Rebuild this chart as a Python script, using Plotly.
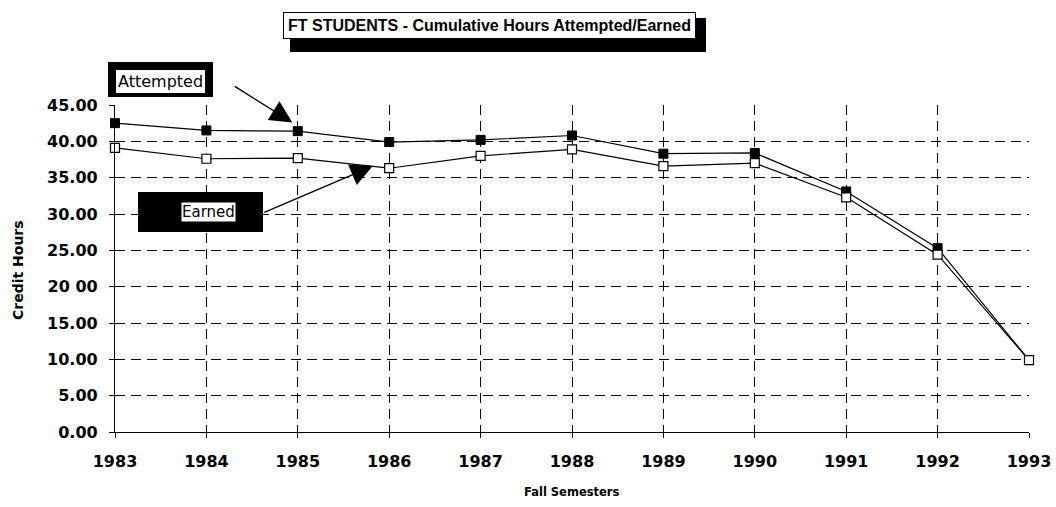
import plotly.graph_objects as go

years = [1983, 1984, 1985, 1986, 1987, 1988, 1989, 1990, 1991, 1992, 1993]
attempted = [42.5, 41.5, 41.4, 39.9, 40.2, 40.8, 38.3, 38.4, 33.1, 25.3, 9.9]
earned = [39.1, 37.6, 37.7, 36.3, 38.0, 38.9, 36.6, 37.0, 32.3, 24.4, 9.9]
y_ticks = [0, 5, 10, 15, 20, 25, 30, 35, 40, 45]
y_ticklabels = ["0.00", "5.00", "10.00", "15.00", "20 00", "25.00", "30.00", "35.00", "40.00", "45.00"]

W, H = 1056, 507
L, R, T, B = 115, 27, 105, 75
PW, PH = W - L - R, H - T - B

def px(x):
    return (x - L) / PW

def py(y):
    return (H - B - y) / PH

fig = go.Figure()
fig.add_trace(go.Scatter(
    x=years, y=attempted, mode="lines+markers", name="Attempted",
    line=dict(color="black", width=1.2),
    marker=dict(symbol="square", size=9, color="black", line=dict(color="black", width=1)),
    cliponaxis=False,
))
fig.add_trace(go.Scatter(
    x=years, y=earned, mode="lines+markers", name="Earned",
    line=dict(color="black", width=1.2),
    marker=dict(symbol="square", size=9, color="white", line=dict(color="black", width=1.2)),
    cliponaxis=False,
))

tickfont = dict(family="DejaVu Sans", size=16, color="black", weight="bold")
fig.update_xaxes(
    range=[1983, 1993], tickvals=years, ticktext=[str(y) for y in years],
    showgrid=True, gridcolor="black", gridwidth=1, griddash="10px,6px",
    showline=True, linecolor="black", linewidth=1.2,
    ticks="outside", ticklen=5, tickcolor="black", ticklabelstandoff=10,
    zeroline=False, tickfont=tickfont, automargin=False,
)
fig.update_yaxes(
    range=[0, 45], tickvals=y_ticks, ticktext=y_ticklabels,
    showgrid=True, gridcolor="black", gridwidth=1, griddash="10px,6px",
    showline=True, linecolor="black", linewidth=1.2,
    ticks="outside", ticklen=5, tickcolor="black", ticklabelstandoff=8,
    zeroline=False, tickfont=tickfont, automargin=False,
)

shapes = [
    # title shadow
    dict(type="rect", xref="paper", yref="paper", x0=px(290), x1=px(706), y0=py(52), y1=py(18),
         fillcolor="black", line=dict(width=0), layer="above"),
    # attempted box backing
    dict(type="rect", xref="paper", yref="paper", x0=px(108), x1=px(213), y0=py(97), y1=py(62),
         fillcolor="black", line=dict(width=0), layer="above"),
    # earned box
    dict(type="rect", xref="paper", yref="paper", x0=px(138), x1=px(263), y0=py(232), y1=py(192),
         fillcolor="black", line=dict(width=0), layer="above"),
]

annotations = [
    dict(text="<b>FT STUDENTS - Cumulative Hours Attempted/Earned</b>", xref="paper", yref="paper",
         x=px(489), y=py(26), xanchor="center", yanchor="middle", showarrow=False,
         bgcolor="white", bordercolor="black", borderwidth=1, borderpad=4,
         font=dict(family="Liberation Sans", size=16, color="black")),
    dict(text="Attempted", xref="paper", yref="paper", x=px(160), y=py(82),
         xanchor="center", yanchor="middle", showarrow=False,
         bgcolor="white", bordercolor="black", borderwidth=1, borderpad=2,
         font=dict(family="DejaVu Sans", size=16, color="black")),
    dict(text="Earned", xref="paper", yref="paper", x=px(208), y=py(212),
         xanchor="center", yanchor="middle", showarrow=False, bgcolor="white", borderpad=0,
         font=dict(family="DejaVu Sans", size=15, color="black")),
    dict(text="<b>Credit Hours</b>", xref="paper", yref="paper", x=px(18), y=py(270),
         xanchor="center", yanchor="middle", showarrow=False, textangle=-90,
         font=dict(family="DejaVu Sans", size=14, color="black")),
    dict(text="<b>Fall Semesters</b>", xref="paper", yref="paper", x=px(572), y=py(492),
         xanchor="center", yanchor="middle", showarrow=False,
         font=dict(family="DejaVu Sans", size=11.5, color="black")),
    # arrows
    dict(text="", x=1984.94, y=42.6, xref="x", yref="y", showarrow=True, ax=-59, ay=-37,
         arrowhead=2, arrowsize=3.4, arrowwidth=1.3, arrowcolor="black"),
    dict(text="", x=1985.82, y=36.6, xref="x", yref="y", showarrow=True, ax=-110, ay=47,
         arrowhead=2, arrowsize=3.4, arrowwidth=1.3, arrowcolor="black"),
]

fig.update_layout(
    width=W, height=H, margin=dict(l=L, r=R, t=T, b=B, autoexpand=False),
    paper_bgcolor="white", plot_bgcolor="white", showlegend=False,
    shapes=shapes, annotations=annotations,
)
fig.write_html("out.html", config={"displayModeBar": False},
               post_script="document.body.style.margin='0';")
